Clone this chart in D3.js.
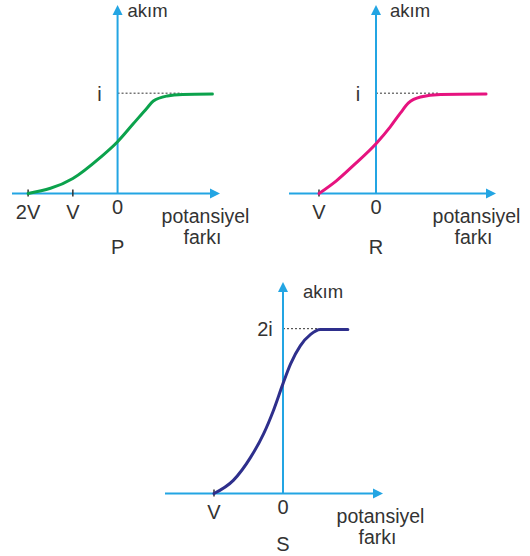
<!DOCTYPE html>
<html>
<head>
<meta charset="utf-8">
<script src="https://cdn.jsdelivr.net/npm/d3@7"></script>
<style>
  html, body { margin: 0; padding: 0; background: #fff; }
  svg { display: block; }
  text { font-family: "Liberation Sans", Arial, Helvetica, sans-serif; fill: #333333; }
</style>
</head>
<body>
<svg id="chart" width="530" height="556"></svg>
<script>
// Current vs. potential difference for three photocells P, R, S.
// Voltage in units of V (negative = retarding), current in units of i.
const pVoltage = [-2.0, -1.0, -0.39, 0.0, 0.35, 0.66, 0.80, 1.11, 1.45, 2.12];
const pCurrent = [0.0, 0.15, 0.36, 0.52, 0.70, 0.86, 0.93, 0.98, 0.995, 1.0];

const rVoltage = [-1.0, -0.69, -0.40, 0.0, 0.25, 0.43, 0.57, 0.78, 1.13, 1.93];
const rCurrent = [0.0, 0.13, 0.28, 0.50, 0.67, 0.81, 0.91, 0.97, 0.995, 1.0];

const sVoltage = [-1.0, -0.72, -0.47, -0.28, -0.14, 0.0, 0.11, 0.25, 0.40, 0.54, 0.94];
const sCurrent = [0.0, 0.16, 0.44, 0.73, 1.01, 1.34, 1.58, 1.80, 1.94, 2.0, 2.0];

const pTickValues = [-2, -1];
const pTickLabels = ["2V", "V"];
const rTickValues = [-1];
const rTickLabels = ["V"];
const sTickValues = [-1];
const sTickLabels = ["V"];

const saturationValues = [1, 1, 2];
const saturationLabels = ["i", "i", "2i"];
const panelNames = ["P", "R", "S"];
const lineColors = ["#0ba24c", "#e6137f", "#2e2f8c"];

const axisColor = "#23a5e3";
const svg = d3.select("#chart");

// Each panel: its own frame on the page, scales built from it
const frames = [
  { xDom: [-2.36, 2.29], xRange: [12, 220],  yDom: [0, 1.894], yRange: [193.5, 5],   dashTo: 1.44, nameDy: 60.5 },
  { xDom: [-1.526, 2.105], xRange: [289, 496], yDom: [0, 1.894], yRange: [193.5, 5], dashTo: 1.12, nameDy: 60.5 },
  { xDom: [-1.71, 1.449], xRange: [165, 383], yDom: [0, 2.579], yRange: [493.5, 282], dashTo: 0.51, nameDy: 57.5 }
];

const series = [
  { v: pVoltage, c: pCurrent, ticks: pTickValues, tickLabels: pTickLabels },
  { v: rVoltage, c: rCurrent, ticks: rTickValues, tickLabels: rTickLabels },
  { v: sVoltage, c: sCurrent, ticks: sTickValues, tickLabels: sTickLabels }
];

frames.forEach((f, k) => {
  const s = series[k];
  const x = d3.scaleLinear().domain(f.xDom).range(f.xRange);
  const y = d3.scaleLinear().domain(f.yDom).range(f.yRange);
  const g = svg.append("g");
  const x0 = x(0), y0 = y(0);
  const xEnd = x(f.xDom[1]), yTop = y(f.yDom[1]);
  const head = 10, half = 5;

  // saturation dashed guide
  g.append("line")
    .attr("x1", x0).attr("x2", x(f.dashTo))
    .attr("y1", y(saturationValues[k]) - 0.8).attr("y2", y(saturationValues[k]) - 0.8)
    .attr("stroke", "#333").attr("stroke-width", 1)
    .attr("stroke-dasharray", "2,2");

  // horizontal axis with arrow
  g.append("line")
    .attr("x1", x(f.xDom[0])).attr("x2", xEnd - head + 1)
    .attr("y1", y0).attr("y2", y0)
    .attr("stroke", axisColor).attr("stroke-width", 2);
  g.append("path")
    .attr("d", `M${xEnd},${y0} L${xEnd - head},${y0 - half} L${xEnd - head},${y0 + half} Z`)
    .attr("fill", axisColor);

  // vertical axis with arrow
  g.append("line")
    .attr("x1", x0).attr("x2", x0)
    .attr("y1", y0).attr("y2", yTop + head - 1)
    .attr("stroke", axisColor).attr("stroke-width", 2);
  g.append("path")
    .attr("d", `M${x0},${yTop} L${x0 - half},${yTop + head} L${x0 + half},${yTop + head} Z`)
    .attr("fill", axisColor);

  // tick marks on the voltage axis
  s.ticks.forEach((t, j) => {
    g.append("line")
      .attr("x1", x(t)).attr("x2", x(t))
      .attr("y1", y0 - 4).attr("y2", y0 + 3)
      .attr("stroke", "#333").attr("stroke-width", 1.5);
    g.append("text")
      .attr("x", x(t)).attr("y", y0 + 25.5)
      .attr("text-anchor", "middle").attr("font-size", 20)
      .text(s.tickLabels[j]);
  });

  g.append("text")
    .attr("x", x0).attr("y", y0 + 20.5)
    .attr("text-anchor", "middle").attr("font-size", 20)
    .text("0");

  // saturation label
  g.append("text")
    .attr("x", x0 - 18).attr("y", y(saturationValues[k]) + 7)
    .attr("text-anchor", "middle").attr("font-size", 20)
    .text(saturationLabels[k]);

  // axis titles
  const akimDx = [10, 14, 20][k];
  const akimY = [17, 17, 298][k];
  g.append("text")
    .attr("x", x0 + akimDx).attr("y", akimY)
    .attr("font-size", 18.5)
    .text("akım");

  const potCx = [205.5, 476.5, 380.5][k];
  g.append("text")
    .attr("x", potCx).attr("y", y0 + 29)
    .attr("text-anchor", "middle").attr("font-size", 19.5)
    .text("potansiyel");
  g.append("text")
    .attr("x", potCx - 3).attr("y", y0 + 50)
    .attr("text-anchor", "middle").attr("font-size", 19.5)
    .text("farkı");

  g.append("text")
    .attr("x", x0).attr("y", y0 + f.nameDy)
    .attr("text-anchor", "middle").attr("font-size", 20)
    .text(panelNames[k]);

  // characteristic curve
  const line = d3.line()
    .x((d, j) => x(s.v[j]))
    .y((d, j) => y(s.c[j]))
    .curve(d3.curveMonotoneX);
  g.append("path")
    .attr("d", line(s.v))
    .attr("fill", "none")
    .attr("stroke", lineColors[k])
    .attr("stroke-width", 3)
    .attr("stroke-linecap", "round");
});
</script>
</body>
</html>
